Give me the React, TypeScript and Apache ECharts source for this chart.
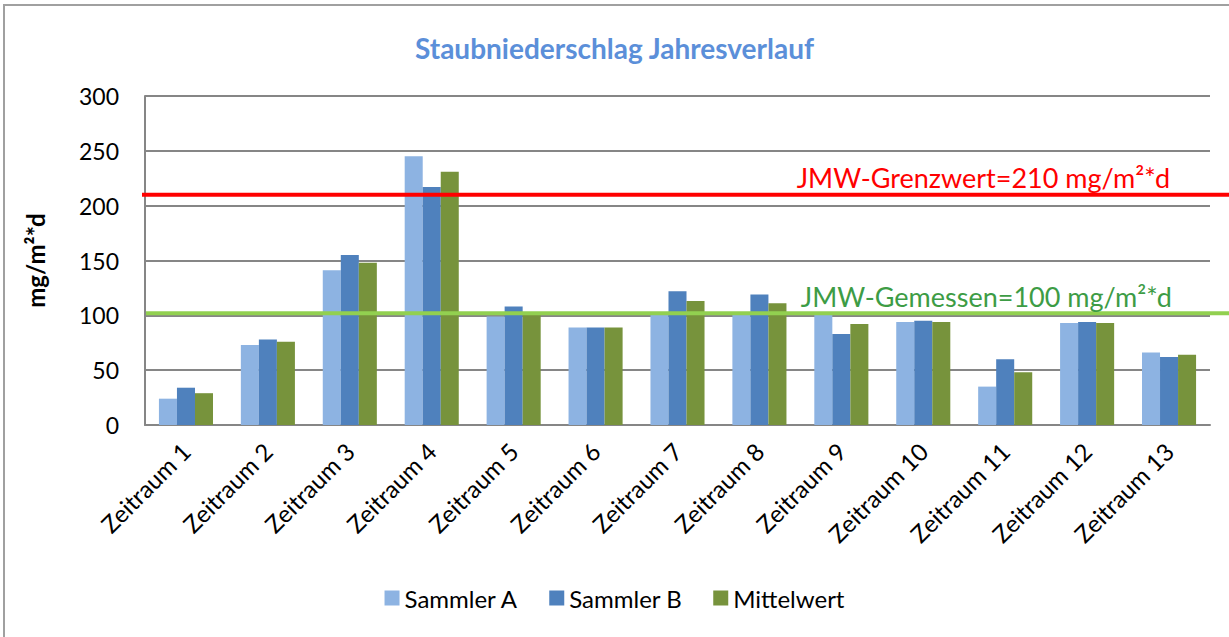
import React, { useEffect, useRef } from "react";
import * as echarts from "echarts";

const categories = [
  "Zeitraum 1", "Zeitraum 2", "Zeitraum 3", "Zeitraum 4", "Zeitraum 5", "Zeitraum 6", "Zeitraum 7",
  "Zeitraum 8", "Zeitraum 9", "Zeitraum 10", "Zeitraum 11", "Zeitraum 12", "Zeitraum 13",
];
const sammlerA = [24, 73, 141, 245, 99, 89, 103, 103, 101, 94, 35, 93, 66];
const sammlerB = [34, 78, 155, 217, 108, 89, 122, 119, 83, 95, 60, 94, 62];
const mittelwert = [29, 76, 148, 231, 101, 89, 113, 111, 92, 94, 48, 93, 64];
const grenzwert = 210;
const gemessen = 102;
const grenzwertLabel = "JMW-Grenzwert=210 mg/m²*d";
const gemessenLabel = "JMW-Gemessen=100 mg/m²*d";
const yTicks = { min: 0, max: 300, interval: 50 };

const FONT = "Lato";

export default function App() {
  const ref = useRef<HTMLDivElement>(null);
  useEffect(() => {
    if (!ref.current) return;
    const chart = echarts.init(ref.current, null, { renderer: "svg" });
    const option: any = {
      animation: false,
      backgroundColor: "#ffffff",
      textStyle: { fontFamily: FONT },
      title: {
        text: "Staubniederschlag Jahresverlauf",
        left: "center",
        top: 29,
        textStyle: { color: "#5B8FD9", fontSize: 28, fontWeight: "bold", fontFamily: FONT },
      },
      grid: { left: 145, right: 19, top: 96, bottom: 212, containLabel: false },
      legend: {
        bottom: 22,
        left: "center",
        itemWidth: 15,
        itemHeight: 15,
        itemGap: 31,
        icon: "rect",
        textStyle: { fontSize: 24, color: "#000", fontFamily: FONT },
        data: ["Sammler A", "Sammler B", "Mittelwert"],
      },
      xAxis: {
        type: "category",
        data: categories,
        axisLine: { lineStyle: { color: "#868686", width: 2 } },
        axisTick: { show: false },
        axisLabel: { rotate: 45, fontSize: 24, color: "#000", margin: 22, interval: 0, fontFamily: FONT },
      },
      yAxis: {
        type: "value",
        min: yTicks.min,
        max: yTicks.max,
        interval: yTicks.interval,
        name: "mg/m²*d",
        nameLocation: "middle",
        nameGap: 98,
        nameTextStyle: { fontSize: 24, fontWeight: "bold", color: "#000", fontFamily: FONT },
        axisLine: { show: true, lineStyle: { color: "#868686", width: 2 } },
        axisTick: { show: false },
        axisLabel: { fontSize: 23, color: "#000", margin: 26, fontFamily: FONT },
        splitLine: { lineStyle: { color: "#868686", width: 2 } },
      },
      series: [
        { name: "Sammler A", type: "bar", data: sammlerA, itemStyle: { color: "#8DB3E2" }, barGap: "0%", barCategoryGap: "34%" },
        { name: "Sammler B", type: "bar", data: sammlerB, itemStyle: { color: "#4F81BD" }, barGap: "0%", barCategoryGap: "34%" },
        { name: "Mittelwert", type: "bar", data: mittelwert, itemStyle: { color: "#77933C" }, barGap: "0%", barCategoryGap: "34%" },
      ],
    };
    chart.setOption(option);
    const yRed = chart.convertToPixel({ yAxisIndex: 0 }, grenzwert) as number;
    const yGreen = chart.convertToPixel({ yAxisIndex: 0 }, gemessen) as number;
    chart.setOption({
      graphic: [
        { type: "rect", shape: { x: 4, y: 5, width: 1300, height: 700 }, style: { fill: "none", stroke: "#A0A0A0", lineWidth: 2 }, silent: true },
        { type: "line", shape: { x1: 142, y1: yRed, x2: 1229, y2: yRed }, style: { stroke: "#FF0000", lineWidth: 4 }, z: 10 },
        { type: "line", shape: { x1: 146, y1: yGreen, x2: 1229, y2: yGreen }, style: { stroke: "#92D050", lineWidth: 4 }, z: 10 },
        { type: "text", x: 1170, y: yRed - 4, style: { text: grenzwertLabel, fill: "#FF0000", fontSize: 27, fontFamily: FONT, align: "right", verticalAlign: "bottom" }, z: 11 },
        { type: "text", x: 1172, y: yGreen - 3, style: { text: gemessenLabel, fill: "#3D9C45", fontSize: 27, fontFamily: FONT, align: "right", verticalAlign: "bottom" }, z: 11 },
      ],
    });
    return () => chart.dispose();
  }, []);
  return <div ref={ref} style={{ width: 1229, height: 637, position: "absolute", left: 0, top: 0 }} />;
}
